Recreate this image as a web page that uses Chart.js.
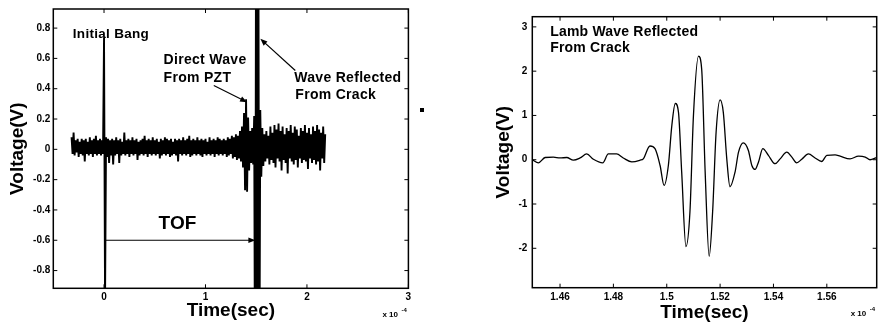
<!DOCTYPE html>
<html>
<head>
<meta charset="utf-8">
<script src="https://cdn.jsdelivr.net/npm/chart.js@4.4.1/dist/chart.umd.min.js"></script>
<style>
  html, body { margin: 0; padding: 0; background: #fff; }
  #wrap { position: relative; width: 879px; height: 331px; overflow: hidden; background: #fff; }
  #leftChart { position: absolute; left: 0; top: 0; }
  #rightChart { position: absolute; left: 440px; top: 0; }
  #dot { position: absolute; left: 420px; top: 108px; width: 4px; height: 4px; background: #000; }
</style>
</head>
<body>
<div id="wrap">
  <canvas id="leftChart" width="440" height="331"></canvas>
  <canvas id="rightChart" width="439" height="331"></canvas>
  <div id="dot"></div>
</div>
<script>
// Left panel: whole record, one sample every 0.01 (x 1e-4 sec) from -0.32
const leftStart = -0.32;
const leftStep = 0.01;
const leftVolts = [
  0.08,-0.03,0.11,-0.04,0.06,-0.02,0.07,-0.05,0.05,-0.03,
  0.07,-0.04,0.06,-0.08,0.07,-0.03,0.05,-0.04,0.08,-0.03,
  0.06,-0.05,0.07,-0.03,0.09,-0.04,0.06,-0.03,0.07,-0.04,
  0.06,-0.03,0.74,-1.00,0.08,-0.05,0.07,-0.09,0.06,-0.04,
  0.07,-0.10,0.06,-0.04,0.08,-0.03,0.06,-0.09,0.07,-0.04,
  0.05,-0.03,0.11,-0.04,0.06,-0.03,0.07,-0.05,0.06,-0.03,
  0.08,-0.04,0.06,-0.03,0.07,-0.07,0.05,-0.04,0.06,-0.03,
  0.07,-0.04,0.09,-0.03,0.06,-0.05,0.07,-0.03,0.06,-0.04,
  0.08,-0.03,0.06,-0.04,0.07,-0.03,0.05,-0.06,0.07,-0.04,
  0.06,-0.03,0.08,-0.04,0.07,-0.03,0.06,-0.05,0.07,-0.04,
  0.05,-0.03,0.07,-0.04,0.06,-0.08,0.07,-0.03,0.06,-0.04,
  0.08,-0.03,0.06,-0.04,0.07,-0.03,0.09,-0.05,0.06,-0.04,
  0.07,-0.03,0.06,-0.04,0.08,-0.03,0.06,-0.04,0.07,-0.05,
  0.06,-0.03,0.07,-0.04,0.05,-0.03,0.08,-0.04,0.06,-0.03,
  0.07,-0.05,0.06,-0.03,0.08,-0.04,0.07,-0.03,0.06,-0.04,
  0.07,-0.03,0.06,-0.05,0.08,-0.04,0.07,-0.03,0.09,-0.06,
  0.08,-0.05,0.10,-0.07,0.09,-0.06,0.12,-0.08,0.15,-0.12,
  0.24,-0.27,0.33,-0.28,0.21,-0.14,0.12,-0.09,0.14,-0.10,
  0.22,-2.10,2.30,-2.20,2.00,-1.90,0.26,-0.18,0.14,-0.11,
  0.10,-0.08,0.12,-0.06,0.09,-0.10,0.15,-0.07,0.11,-0.09,
  0.16,-0.12,0.13,-0.06,0.17,-0.08,0.12,-0.14,0.15,-0.07,
  0.10,-0.09,0.14,-0.16,0.12,-0.06,0.16,-0.08,0.11,-0.10,
  0.15,-0.07,0.13,-0.12,0.09,-0.06,0.14,-0.09,0.12,-0.07,
  0.16,-0.08,0.11,-0.13,0.14,-0.06,0.10,-0.09,0.15,-0.07,
  0.12,-0.10,0.16,-0.08,0.13,-0.14,0.11,-0.06,0.15,-0.09,
  0.10
];
const leftXTicks = [0, 1, 2, 3];
const leftYTicks = [-0.8, -0.6, -0.4, -0.2, 0, 0.2, 0.4, 0.6, 0.8];

// Right panel: close-up of the echo from the crack
const rightTime = [
  1.4496,1.4519,1.4544,1.4575,1.4600,1.4625,1.4650,1.4675,1.4700,1.4725,
  1.4760,1.4781,1.4812,1.4837,1.4869,1.4900,1.4912,1.4937,1.4956,1.4975,
  1.4990,1.5006,1.5019,1.5032,1.5044,1.5056,1.5072,1.5087,1.5100,1.5119,
  1.5131,1.5144,1.5159,1.5172,1.5185,1.5200,1.5212,1.5225,1.5237,1.5256,
  1.5269,1.5287,1.5306,1.5319,1.5331,1.5344,1.5360,1.5381,1.5406,1.5425,
  1.5450,1.5469,1.5487,1.5506,1.5531,1.5556,1.5581,1.5600,1.5631,1.5650,
  1.5687,1.5719,1.5744,1.5762,1.5787
];
const rightVolts = [
  0.00,-0.07,0.05,0.06,0.04,0.05,-0.01,0.04,0.13,0.01,
  -0.07,0.13,0.13,0.04,-0.05,-0.01,0.02,0.31,0.25,-0.13,
  -0.58,-0.13,0.77,1.27,1.07,-0.28,-1.96,-1.17,0.99,2.34,
  2.04,-0.28,-2.18,-1.17,0.62,1.35,1.07,0.02,-0.61,-0.28,
  0.17,0.38,0.21,-0.13,-0.22,-0.05,0.25,0.10,-0.09,0.02,
  0.17,0.06,-0.07,0.01,0.13,0.04,-0.04,0.10,0.11,0.08,
  0.02,0.08,0.06,0.00,0.05
];
const rightXTicks = [1.46, 1.48, 1.5, 1.52, 1.54, 1.56];
const rightYTicks = [-2, -1, 0, 1, 2, 3];

const FONT = '"Liberation Sans", Arial, sans-serif';

// box round the plot, ticks pointing inwards on all four sides, and the x 10^-4 note
const framePlugin = {
  id: 'frame',
  afterDraw(chart) {
    const { ctx, chartArea: a, scales: { x, y } } = chart;
    ctx.save();
    ctx.strokeStyle = '#000';
    ctx.lineWidth = 1.5;
    ctx.strokeRect(a.left, a.top, a.right - a.left, a.bottom - a.top);
    ctx.lineWidth = 1;
    ctx.beginPath();
    x.ticks.forEach(t => {
      const px = x.getPixelForValue(t.value);
      ctx.moveTo(px, a.bottom); ctx.lineTo(px, a.bottom - 4);
      ctx.moveTo(px, a.top); ctx.lineTo(px, a.top + 4);
    });
    y.ticks.forEach(t => {
      const py = y.getPixelForValue(t.value);
      ctx.moveTo(a.left, py); ctx.lineTo(a.left + 4, py);
      ctx.moveTo(a.right, py); ctx.lineTo(a.right - 4, py);
    });
    ctx.stroke();

    ctx.fillStyle = '#000';
    ctx.textBaseline = 'middle';
    ctx.textAlign = 'left';
    ctx.font = 'bold 8px ' + FONT;
    ctx.fillText('x 10', a.right - 26, a.bottom + 26);
    ctx.font = 'bold 6px ' + FONT;
    ctx.fillText('-4', a.right - 7, a.bottom + 22);
    ctx.restore();
  }
};

// text labels and arrows, placed in data units
const notesPlugin = {
  id: 'notes',
  afterDatasetsDraw(chart, args, opts) {
    const { ctx, scales: { x, y } } = chart;
    ctx.save();
    ctx.fillStyle = '#000';
    ctx.strokeStyle = '#000';
    ctx.textBaseline = 'middle';
    ctx.textAlign = 'left';
    (opts.labels || []).forEach(l => {
      ctx.font = 'bold ' + l.size + 'px ' + FONT;
      ctx.letterSpacing = (l.spacing || 0) + 'px';
      ctx.fillText(l.text, x.getPixelForValue(l.x), y.getPixelForValue(l.y));
    });
    ctx.letterSpacing = '0px';
    (opts.arrows || []).forEach(ar => {
      const x0 = x.getPixelForValue(ar.from[0]), y0 = y.getPixelForValue(ar.from[1]);
      const x1 = x.getPixelForValue(ar.to[0]), y1 = y.getPixelForValue(ar.to[1]);
      const ang = Math.atan2(y1 - y0, x1 - x0);
      const len = 7, wid = 2.8;
      ctx.lineWidth = 1.2;
      ctx.beginPath();
      ctx.moveTo(x0, y0);
      ctx.lineTo(x1 - len * Math.cos(ang) * 0.6, y1 - len * Math.sin(ang) * 0.6);
      ctx.stroke();
      ctx.beginPath();
      ctx.moveTo(x1, y1);
      ctx.lineTo(x1 - len * Math.cos(ang) + wid * Math.sin(ang), y1 - len * Math.sin(ang) - wid * Math.cos(ang));
      ctx.lineTo(x1 - len * Math.cos(ang) - wid * Math.sin(ang), y1 - len * Math.sin(ang) + wid * Math.cos(ang));
      ctx.closePath();
      ctx.fill();
    });
    ctx.restore();
  }
};

function axis(min, max, ticks, o) {
  return {
    type: 'linear',
    min: min,
    max: max,
    afterBuildTicks: s => { s.ticks = ticks.map(v => ({ value: v })); },
    afterFit: s => {
      if (o.width) s.width = o.width;
      if (o.height) s.height = o.height;
    },
    grid: { display: false, drawTicks: false },
    border: { display: false },
    ticks: {
      color: '#000',
      font: { family: FONT, size: 10, weight: 'bold' },
      padding: o.pad,
      autoSkip: false,
      maxRotation: 0,
      callback: v => String(v)
    },
    title: {
      display: true,
      text: o.title,
      color: '#000',
      font: { family: FONT, size: 19, weight: 'bold', lineHeight: 1.2 },
      padding: o.titlePad
    }
  };
}

const leftPoints = leftVolts.map((v, i) => ({ x: leftStart + i * leftStep, y: v }));
const rightPoints = rightVolts.map((v, i) => ({ x: rightTime[i], y: v }));

new Chart(document.getElementById('leftChart'), {
  type: 'line',
  data: {
    datasets: [{
      data: leftPoints,
      borderColor: '#000',
      borderWidth: 1.9,
      pointRadius: 0,
      tension: 0
    }]
  },
  options: {
    responsive: false,
    animation: false,
    events: [],
    layout: { padding: { left: 0, top: 8.3, right: 31.6, bottom: 0 } },
    scales: {
      x: axis(-0.5, 3, leftXTicks, { height: 42.7, pad: 3, title: 'Time(sec)', titlePad: { bottom: 8.6 } }),
      y: axis(-0.917, 0.926, leftYTicks, { width: 53.3, pad: 3, title: 'Voltage(V)', titlePad: { top: 6 } })
    },
    plugins: {
      legend: { display: false },
      tooltip: { enabled: false },
      notes: {
        labels: [
          { text: 'Initial Bang', x: -0.308, y: 0.759, size: 13.5, spacing: 0.3 },
          { text: 'Direct Wave', x: 0.587, y: 0.586, size: 14, spacing: 0.3 },
          { text: 'From PZT', x: 0.587, y: 0.472, size: 14, spacing: 0.3 },
          { text: 'Wave Reflected', x: 1.875, y: 0.472, size: 14, spacing: 0.3 },
          { text: 'From Crack', x: 1.885, y: 0.355, size: 14, spacing: 0.3 },
          { text: 'TOF', x: 0.538, y: -0.489, size: 19, spacing: 0 }
        ],
        arrows: [
          { from: [1.082, 0.421], to: [1.41, 0.311] },
          { from: [1.885, 0.52], to: [1.541, 0.729] },
          { from: [0, -0.6], to: [1.492, -0.6] }
        ]
      }
    }
  },
  plugins: [notesPlugin, framePlugin]
});

new Chart(document.getElementById('rightChart'), {
  type: 'line',
  data: {
    datasets: [{
      data: rightPoints,
      borderColor: '#000',
      borderWidth: 1.3,
      pointRadius: 0,
      cubicInterpolationMode: 'monotone'
    }]
  },
  options: {
    responsive: false,
    animation: false,
    events: [],
    layout: { padding: { left: 0, top: 16.7, right: 2.3, bottom: 0 } },
    scales: {
      x: axis(1.4496, 1.5787, rightXTicks, { height: 43.3, pad: 4, title: 'Time(sec)', titlePad: { bottom: 6.6 } }),
      y: axis(-2.89, 3.23, rightYTicks, { width: 92.3, pad: 5, title: 'Voltage(V)', titlePad: { top: 52 } })
    },
    plugins: {
      legend: { display: false },
      tooltip: { enabled: false },
      notes: {
        labels: [
          { text: 'Lamb Wave Reflected', x: 1.4563, y: 2.89, size: 14, spacing: 0.2 },
          { text: 'From Crack', x: 1.4563, y: 2.515, size: 14, spacing: 0.2 }
        ]
      }
    }
  },
  plugins: [notesPlugin, framePlugin]
});
</script>
</body>
</html>
